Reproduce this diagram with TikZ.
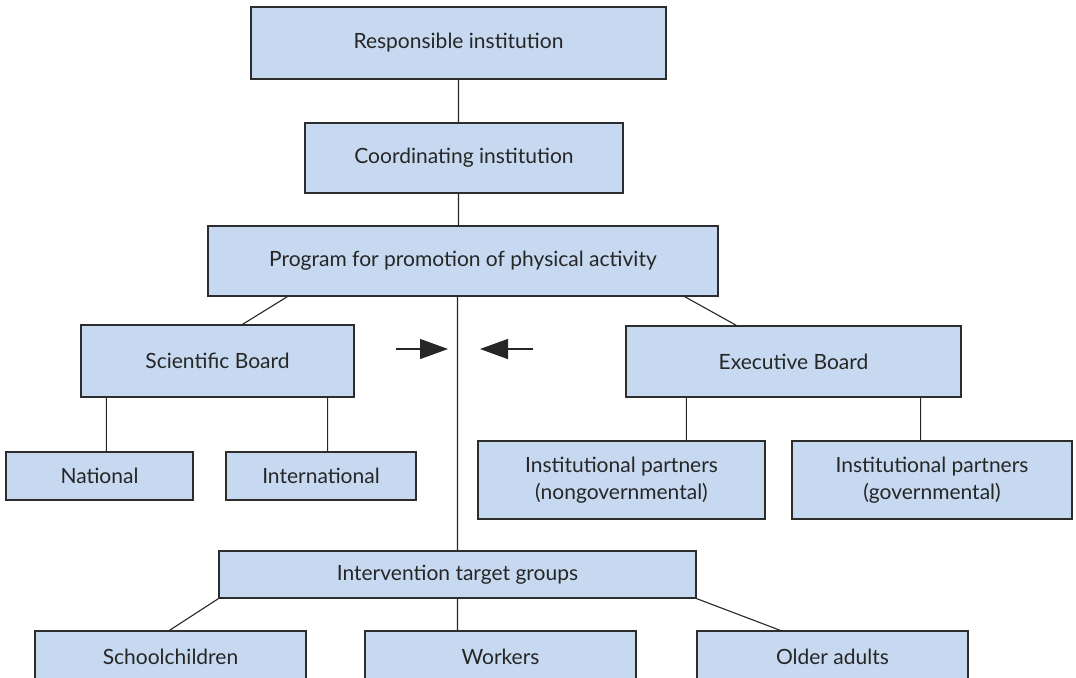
\documentclass[tikz,border=0pt]{standalone}
\usepackage{fontspec}
\setmainfont{Lato}
\usetikzlibrary{arrows.meta,calc}

\definecolor{boxblue}{RGB}{198,217,240}
\definecolor{boxline}{RGB}{45,45,45}

\begin{document}
\begin{tikzpicture}[x=0.5pt,y=-0.5pt,
    box/.style 2 args={draw=boxline, fill=boxblue, line width=0.6pt,
        minimum width=#1*0.5pt, minimum height=#2*0.5pt, inner sep=0pt,
        align=center, text=black!85,
        font=\fontsize{10.5}{13.5}\selectfont},
    link/.style={draw=black!85, line width=0.55pt},
    arr/.style={link, -{Triangle[length=14pt 0, width=10pt 0]}}]

    \clip (0,0) rectangle (1076,677);

    %% main column
    \node[box={415}{72}] (resp)  at (458.5,43)  {Responsible institution};
    \node[box={318}{70}] (coord) at (464,158)   {Coordinating institution};
    \node[box={510}{70}] (prog)  at (463,261)   {Program for promotion of physical activity};

    %% boards
    \node[box={273}{72}] (sci) at (217.5,361)   {Scientific Board};
    \node[box={335}{71}] (exe) at (793.5,361.5) {Executive Board};
    \node[box={187}{48}] (nat)    at (99.5,476)  {National};
    \node[box={190}{48}] (intl)   at (321,476)   {International};
    \node[box={287}{78}] (nongov) at (621.5,480) {Institutional partners\\(nongovernmental)};
    \node[box={280}{78}] (gov)    at (932,480)   {Institutional partners\\(governmental)};

    %% target groups
    \node[box={477}{47}] (itg) at (457.5,574.5) {Intervention target groups};
    \node[box={271}{52}] (school)  at (170.5,657) {Schoolchildren};
    \node[box={271}{52}] (workers) at (500.5,657) {Workers};
    \node[box={271}{52}] (older)   at (832.5,657) {Older adults};

    %% attach points
    \path (prog.south west) ++(80,0) coordinate (p1)
          (prog.south east) ++(-34,0) coordinate (p2)
          (sci.north west) ++(162,0) coordinate (s0)
          (exe.north west) ++(111,0) coordinate (e0)
          (sci.south west) ++(26,0) coordinate (s1)
          (sci.south east) ++(-27,0) coordinate (s2)
          (exe.south west) ++(61,0) coordinate (e1)
          (exe.south east) ++(-41,0) coordinate (e2)
          (school.north west) ++(135,0) coordinate (c1)
          (older.north west) ++(84,0) coordinate (c3);

    \path[link]
        (resp.south) -- (resp.south |- coord.north)
        (resp.south |- coord.south) -- (resp.south |- prog.north)
        (itg.north |- prog.south) -- (itg.north)
        (p1) -- (s0)
        (p2) -- (e0)
        (s1) -- (s1 |- nat.north)
        (s2) -- (s2 |- intl.north)
        (e1) -- (e1 |- nongov.north)
        (e2) -- (e2 |- gov.north)
        (itg.south west) -- (c1)
        (itg.south) -- (itg.south |- workers.north)
        (itg.south east) -- (c3)
    ;

    %% arrows towards the trunk
    \coordinate (al) at (396,349);
    \coordinate (at) at (448,349);
    \coordinate (ar) at (533,349);
    \coordinate (bt) at (480,349);
    \draw[arr] (al) -- (at);
    \draw[arr] (ar) -- (bt);
\end{tikzpicture}
\end{document}
